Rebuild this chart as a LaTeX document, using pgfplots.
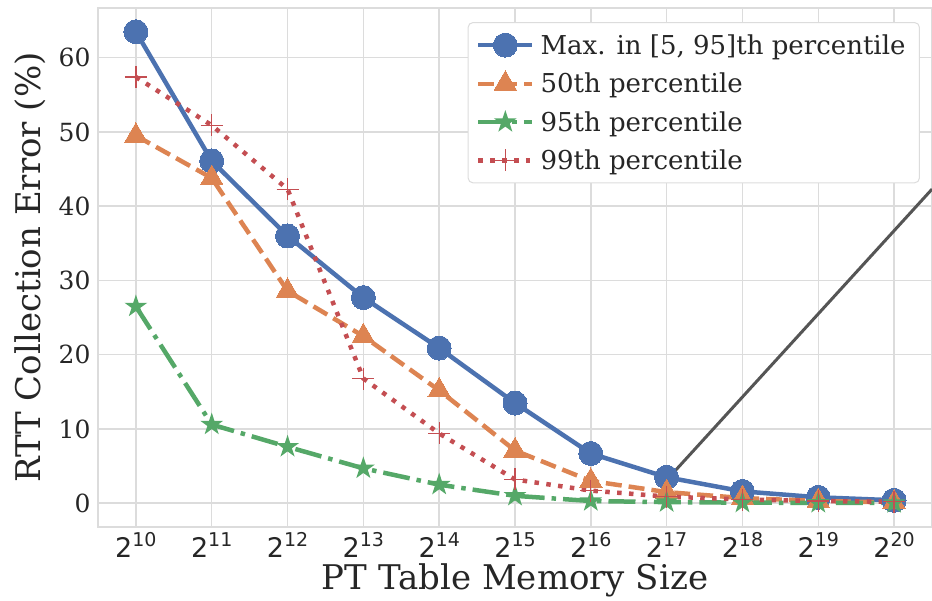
\documentclass[border=0pt]{standalone}
\usepackage{fontspec}
\setmainfont{DejaVu Serif}
\newfontfamily\tsans{DejaVu Sans}
\usepackage{pgfplots}
\pgfplotsset{compat=1.18}
\usetikzlibrary{calc}
\definecolor{sbblue}{HTML}{4C72B0}
\definecolor{sborange}{HTML}{DD8452}
\definecolor{sbgreen}{HTML}{55A868}
\definecolor{sbred}{HTML}{C44E52}
\definecolor{gridc}{HTML}{DCDCDC}
\definecolor{txt}{HTML}{262626}
\pgfdeclareplotmark{fstar}{%
  \pgfpathmoveto{\pgfqpointpolar{90}{\pgfplotmarksize}}%
  \pgfpathlineto{\pgfqpointpolar{126}{0.382\pgfplotmarksize}}%
  \pgfpathlineto{\pgfqpointpolar{162}{\pgfplotmarksize}}%
  \pgfpathlineto{\pgfqpointpolar{198}{0.382\pgfplotmarksize}}%
  \pgfpathlineto{\pgfqpointpolar{234}{\pgfplotmarksize}}%
  \pgfpathlineto{\pgfqpointpolar{270}{0.382\pgfplotmarksize}}%
  \pgfpathlineto{\pgfqpointpolar{306}{\pgfplotmarksize}}%
  \pgfpathlineto{\pgfqpointpolar{342}{0.382\pgfplotmarksize}}%
  \pgfpathlineto{\pgfqpointpolar{18}{\pgfplotmarksize}}%
  \pgfpathlineto{\pgfqpointpolar{54}{0.382\pgfplotmarksize}}%
  \pgfpathclose\pgfusepathqfill}
\newcommand\pw[1]{{\tsans\fontsize{27}{27}\selectfont 2\raisebox{0.42em}{\fontsize{19}{19}\selectfont #1}}}
\begin{document}
\begin{tikzpicture}
\begin{axis}[
  name=ax,
  scale only axis,
  width=834pt, height=519pt,
  xmin=-0.5, xmax=10.5,
  ymin=-3.2, ymax=66.7,
  xtick={0,...,10},
  xticklabels={\pw{10},\pw{11},\pw{12},\pw{13},\pw{14},\pw{15},\pw{16},\pw{17},\pw{18},\pw{19},\pw{20}},
  ytick={0,10,...,60},
  grid=major,
  major grid style={gridc, line width=1.5pt},
  axis line style={gridc, line width=1.5pt},
  tick style={draw=none},
  /pgf/number format/assume math mode=true,
  yticklabel style={font=\fontsize{25}{25}\selectfont, text=txt, xshift=-4pt},
  xticklabel style={text=txt, yshift=-2pt},
  xlabel={PT Table Memory Size},
  ylabel={RTT Collection Error (\%)},
  label style={font=\fontsize{34}{34}\selectfont, text=txt},
  xlabel style={at={(axis description cs:0.5,-0.102)}, anchor=center},
  ylabel style={at={(axis description cs:-0.0815,0.5)}, anchor=center},
  legend style={at={(rel axis cs:0.9856,0.973)}, anchor=north east,
    draw=gridc, line width=1pt, rounded corners=5pt, fill=white,
    font=\fontsize{26}{26}\selectfont, text=txt, row sep=13pt, inner xsep=8pt, inner ysep=10pt,
    nodes={inner xsep=6pt}},
  legend image code/.code={
    \draw[mark repeat=2,mark phase=2] plot coordinates {(0pt,0pt) (27pt,0pt) (54pt,0pt)};
  },
  legend cell align=left,
]
\addplot[sbblue, line width=4.5pt, mark=*, mark size=12pt, mark options={solid, fill=sbblue, draw=sbblue, line width=0pt}]
coordinates {(0,63.5) (1,46.1) (2,36.0) (3,27.7) (4,20.9) (5,13.5) (6,6.7) (7,3.5) (8,1.6) (9,0.8) (10,0.4)};
\addlegendentry{Max. in [5, 95]th percentile}
\addplot[sborange, line width=4.5pt, dash pattern=on 16pt off 7pt, mark=triangle*, mark size=13pt, mark options={solid, fill=sborange, draw=sborange, line width=0pt}]
coordinates {(0,49.5) (1,43.8) (2,28.6) (3,22.5) (4,15.2) (5,7.1) (6,3.0) (7,1.5) (8,0.7) (9,0.3) (10,0.1)};
\addlegendentry{50th percentile}
\addplot[sbgreen, line width=4.5pt, dash pattern=on 27pt off 7pt on 4.5pt off 7pt, mark=fstar, mark size=12pt, mark options={solid, fill=sbgreen, draw=sbgreen}]
coordinates {(0,26.5) (1,10.6) (2,7.6) (3,4.7) (4,2.5) (5,1.0) (6,0.3) (7,0.15) (8,0.08) (9,0.05) (10,0.03)};
\addlegendentry{95th percentile}
\addplot[sbred, line width=4.5pt, dash pattern=on 4.5pt off 7.4pt, mark=+, mark size=11pt, mark options={solid, draw=sbred, line width=1.3pt}]
coordinates {(0,57.4) (1,50.9) (2,42.3) (3,16.8) (4,9.4) (5,3.2) (6,1.7) (7,0.9) (8,0.5) (9,0.3) (10,0.2)};
\addlegendentry{99th percentile}
\draw[color={rgb,255:red,85;green,85;blue,85}, line width=3pt] (axis cs:7.07,3.9) -- (axis cs:10.5,42.3);
\end{axis}
\pgfresetboundingbox
\path ([xshift=-98pt,yshift=-73pt]ax.south west) rectangle ([yshift=8pt]ax.north east);
\end{tikzpicture}
\end{document}
